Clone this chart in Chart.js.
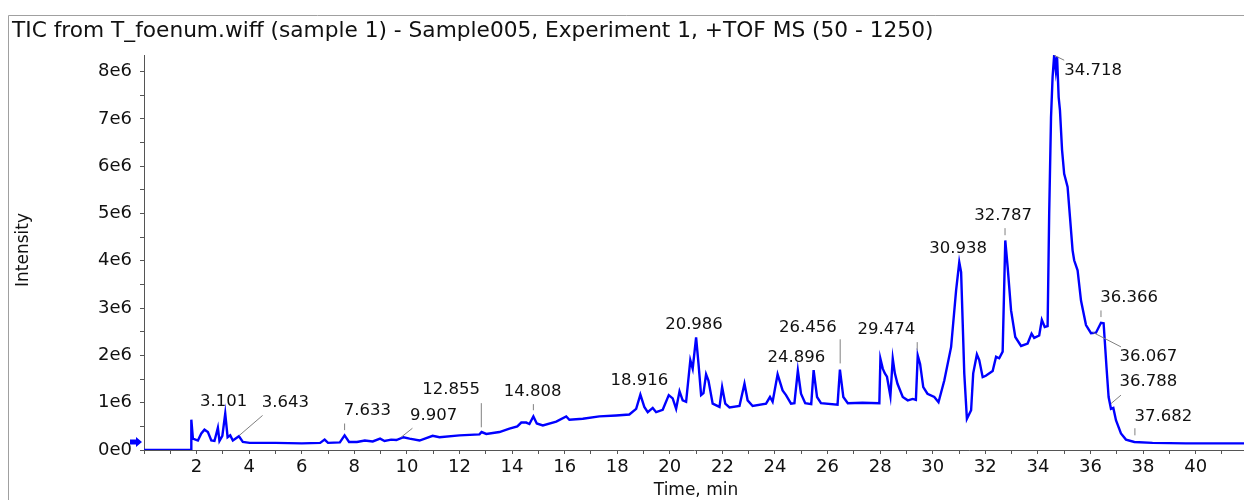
<!DOCTYPE html>
<html>
<head>
<meta charset="utf-8">
<title>TIC T_foenum</title>
<script src="https://cdn.jsdelivr.net/npm/chart.js@4.4.1/dist/chart.umd.min.js"></script>
<style>
  html, body { margin: 0; padding: 0; background: #fff; }
  canvas { display: block; }
</style>
</head>
<body>
<canvas id="ticChart" width="1244" height="500"></canvas>
<script>
// Retention time (min) and intensity (in units of 1e6 counts)
const times = [
  0, 1.79, 1.80, 1.86, 2.05, 2.18, 2.30, 2.43, 2.56, 2.68, 2.81, 2.87, 2.98, 3.09, 3.18, 3.28, 3.38, 3.61, 3.76, 4.02,
  5.0, 6.0, 6.7, 6.87, 7.0, 7.45, 7.63, 7.8, 8.1, 8.4, 8.7, 8.98, 9.15, 9.4, 9.6, 9.87, 10.1, 10.48, 10.98, 11.24,
  12.0, 12.76, 12.84, 13.02, 13.52, 13.9, 14.2, 14.35, 14.54, 14.66, 14.81, 14.94, 15.17, 15.68, 16.06, 16.18, 16.69, 17.32, 17.96, 18.46,
  18.72, 18.88, 19.03, 19.16, 19.35, 19.48, 19.73, 19.96, 20.11, 20.24, 20.37, 20.49, 20.62, 20.78, 20.87, 21.0, 21.09, 21.19, 21.28, 21.38,
  21.47, 21.63, 21.89, 21.99, 22.11, 22.27, 22.65, 22.84, 22.96, 23.15, 23.66, 23.81, 23.91, 24.1, 24.29, 24.42, 24.61, 24.74, 24.87, 24.99,
  25.15, 25.38, 25.47, 25.6, 25.75, 26.38, 26.47, 26.6, 26.77, 27.33, 27.97, 28.01, 28.1, 28.18, 28.26, 28.39, 28.48, 28.56, 28.66, 28.86,
  29.05, 29.24, 29.36, 29.43, 29.52, 29.64, 29.8, 30.06, 30.22, 30.44, 30.7, 30.89, 31.01, 31.08, 31.2, 31.3, 31.46, 31.54, 31.68, 31.77,
  31.9, 32.02, 32.28, 32.41, 32.53, 32.66, 32.76, 32.85, 32.98, 33.14, 33.36, 33.61, 33.76, 33.86, 34.05, 34.15, 34.26, 34.37, 34.43, 34.5,
  34.56, 34.62, 34.68, 34.73, 34.79, 34.84, 34.92, 35.0, 35.13, 35.22, 35.32, 35.38, 35.51, 35.64, 35.83, 36.02, 36.21, 36.4, 36.5, 36.61,
  36.69, 36.78, 36.87, 36.97, 37.16, 37.35, 37.67, 38.36, 39.63, 41.84
];
const intensityE6 = [
  0, 0, 0.64, 0.24, 0.20, 0.35, 0.43, 0.38, 0.20, 0.19, 0.47, 0.19, 0.30, 0.77, 0.27, 0.31, 0.20, 0.29, 0.17, 0.15,
  0.15, 0.14, 0.15, 0.22, 0.15, 0.16, 0.31, 0.17, 0.17, 0.20, 0.18, 0.24, 0.19, 0.22, 0.21, 0.27, 0.24, 0.20, 0.30, 0.27,
  0.31, 0.33, 0.38, 0.34, 0.38, 0.45, 0.50, 0.58, 0.58, 0.55, 0.71, 0.56, 0.52, 0.60, 0.71, 0.64, 0.66, 0.71, 0.73, 0.75,
  0.87, 1.17, 0.91, 0.80, 0.89, 0.80, 0.85, 1.16, 1.09, 0.87, 1.24, 1.05, 1.02, 1.90, 1.72, 2.38, 1.83, 1.16, 1.20, 1.60,
  1.47, 0.98, 0.91, 1.33, 0.98, 0.90, 0.93, 1.40, 1.05, 0.93, 0.98, 1.12, 1.02, 1.60, 1.26, 1.16, 0.98, 0.99, 1.68, 1.19,
  0.99, 0.97, 1.69, 1.12, 0.99, 0.96, 1.70, 1.12, 0.99, 1.00, 0.99, 1.93, 1.72, 1.62, 1.55, 1.14, 1.93, 1.62, 1.40, 1.12,
  1.05, 1.08, 1.06, 2.00, 1.82, 1.33, 1.19, 1.12, 1.01, 1.47, 2.18, 3.38, 3.97, 3.76, 1.62, 0.66, 0.84, 1.62, 2.02, 1.90,
  1.54, 1.57, 1.67, 1.97, 1.94, 2.08, 4.43, 3.87, 2.95, 2.39, 2.20, 2.25, 2.46, 2.37, 2.42, 2.75, 2.60, 2.62, 5.00, 7.04,
  7.89, 8.35, 8.03, 8.31, 7.46, 7.18, 6.34, 5.84, 5.56, 4.93, 4.22, 4.01, 3.80, 3.16, 2.64, 2.47, 2.48, 2.69, 2.68, 1.75,
  1.12, 0.87, 0.89, 0.63, 0.35, 0.22, 0.17, 0.15, 0.14, 0.14
];

// Tick labels
const xTickLabels = ['2', '4', '6', '8', '10', '12', '14', '16', '18', '20', '22', '24', '26', '28', '30', '32', '34', '36', '38', '40'];
const yTickLabels = ['0e0', '1e6', '2e6', '3e6', '4e6', '5e6', '6e6', '7e6', '8e6'];

// Peak labels (retention times printed on the trace)
const peakLabels = ['3.101', '3.643', '7.633', '9.907', '12.855', '14.808', '18.916', '20.986', '24.896',
  '26.456', '29.474', '30.938', '32.787', '34.718', '36.366', '36.067', '36.788', '37.682'];

// Where each label sits, in axis units [time, intensity], plus optional leader line
const labelPlacement = [
  { at: [3.03, 1.03] },
  { at: [5.38, 1.01], lead: [3.63, 0.31, 4.51, 0.73] },
  { at: [8.50, 0.82], lead: [7.63, 0.56, 7.63, 0.42] },
  { at: [11.02, 0.73], lead: [9.78, 0.27, 10.21, 0.46] },
  { at: [11.68, 1.28], lead: [12.83, 0.99, 12.83, 0.48] },
  { at: [14.78, 1.23], lead: [14.81, 0.97, 14.81, 0.84] },
  { at: [18.84, 1.47] },
  { at: [20.92, 2.64] },
  { at: [24.81, 1.96] },
  { at: [25.25, 2.59], lead: [26.48, 2.34, 26.48, 1.83] },
  { at: [28.24, 2.55], lead: [29.41, 2.28, 29.41, 2.11] },
  { at: [30.97, 4.26] },
  { at: [32.68, 4.96], lead: [32.75, 4.69, 32.75, 4.54] },
  { at: [36.10, 8.01], lead: [34.63, 8.34, 35.0, 8.24] },
  { at: [37.47, 3.21], lead: [36.40, 2.95, 36.40, 2.81] },
  { at: [38.20, 1.97], lead: [36.08, 2.49, 37.16, 2.18] },
  { at: [38.20, 1.44], lead: [36.78, 0.98, 37.16, 1.16] },
  { at: [38.77, 0.70], lead: [37.69, 0.46, 37.69, 0.31] }
];

const FONT = '"DejaVu Sans", sans-serif';
const titleText = 'TIC from T_foenum.wiff (sample 1) - Sample005, Experiment 1, +TOF MS (50 - 1250)';

// Frame, title, axis titles, peak labels and the baseline arrow
const decorations = {
  id: 'decorations',
  beforeDraw(chart) {
    const c = chart.ctx;
    c.save();
    c.fillStyle = '#fff';
    c.fillRect(0, 0, chart.width, chart.height);
    c.strokeStyle = '#a0a0a0';
    c.lineWidth = 1;
    c.beginPath();
    c.moveTo(8.5, chart.height);
    c.lineTo(8.5, 15.5);
    c.lineTo(chart.width, 15.5);
    c.stroke();
    c.fillStyle = '#111';
    c.font = '21.7px ' + FONT;
    c.textBaseline = 'middle';
    c.textAlign = 'left';
    c.fillText(titleText, 12, 31);
    c.restore();
  },
  afterDraw(chart) {
    const c = chart.ctx;
    const xs = chart.scales.x;
    const ys = chart.scales.y;
    c.save();
    // axis titles
    c.fillStyle = '#111';
    c.font = '17px ' + FONT;
    c.textAlign = 'center';
    c.textBaseline = 'middle';
    c.fillText('Time, min', 696, 491);
    c.translate(24, 250);
    c.rotate(-Math.PI / 2);
    c.fillText('Intensity', 0, 0);
    c.restore();

    // peak labels
    c.save();
    c.font = '16.5px ' + FONT;
    c.textAlign = 'center';
    c.textBaseline = 'middle';
    peakLabels.forEach((txt, i) => {
      const p = labelPlacement[i];
      if (p.lead) {
        c.strokeStyle = '#808080';
        c.lineWidth = 1;
        c.beginPath();
        c.moveTo(xs.getPixelForValue(p.lead[0]), ys.getPixelForValue(p.lead[1]));
        c.lineTo(xs.getPixelForValue(p.lead[2]), ys.getPixelForValue(p.lead[3]));
        c.stroke();
      }
      c.fillStyle = '#111';
      c.fillText(txt, xs.getPixelForValue(p.at[0]), ys.getPixelForValue(p.at[1]));
    });
    c.restore();

    // baseline marker arrow left of the axis
    const ay = ys.getPixelForValue(0.17);
    const ax = chart.chartArea.left - 2;
    c.save();
    c.fillStyle = '#0000ff';
    c.beginPath();
    c.moveTo(ax, ay);
    c.lineTo(ax - 6, ay - 5);
    c.lineTo(ax - 6, ay - 2.5);
    c.lineTo(ax - 12, ay - 2.5);
    c.lineTo(ax - 12, ay + 2.5);
    c.lineTo(ax - 6, ay + 2.5);
    c.lineTo(ax - 6, ay + 5);
    c.closePath();
    c.fill();
    c.restore();
  }
};

const ctx = document.getElementById('ticChart');
new Chart(ctx, {
  type: 'line',
  data: {
    datasets: [{
      data: times.map((t, i) => ({ x: t, y: intensityE6[i] })),
      borderColor: '#0000ff',
      borderWidth: 2.4,
      pointRadius: 0,
      tension: 0,
      fill: false
    }]
  },
  options: {
    responsive: false,
    animation: false,
    layout: { padding: { top: 55, left: 0, right: 0, bottom: 0 } },
    plugins: {
      legend: { display: false },
      tooltip: { enabled: false }
    },
    scales: {
      x: {
        type: 'linear',
        min: 0,
        max: 41.84,
        afterFit(scale) { scale.height = 50; },
        border: { display: true, color: '#555', width: 1 },
        grid: { drawOnChartArea: false, drawTicks: true, tickLength: 4, tickColor: '#555' },
        ticks: {
          stepSize: 1,
          autoSkip: false,
          includeBounds: false,
          maxRotation: 0,
          padding: 3,
          color: '#111',
          font: { family: FONT, size: 18 },
          callback(v) {
            return (v > 0 && v % 2 === 0) ? xTickLabels[v / 2 - 1] : '';
          }
        }
      },
      y: {
        min: 0,
        max: 8.35,
        afterFit(scale) { scale.width = 144; },
        border: { display: true, color: '#555', width: 1 },
        grid: { drawOnChartArea: false, drawTicks: true, tickLength: 4, tickColor: '#555' },
        ticks: {
          stepSize: 0.5,
          autoSkip: false,
          includeBounds: false,
          padding: 8,
          color: '#111',
          font: { family: FONT, size: 18 },
          callback(v) {
            return Number.isInteger(v) ? yTickLabels[v] : '';
          }
        }
      }
    }
  },
  plugins: [decorations]
});
</script>
</body>
</html>
